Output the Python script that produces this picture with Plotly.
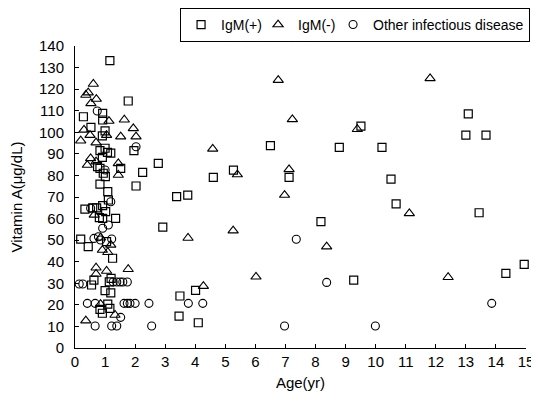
import plotly.graph_objects as go

# IgM(+) : squares
igm_pos_age = [1.16, 1.77, 0.28, 0.92, 0.92, 0.53, 1.00, 0.91, 0.83, 1.00,
               1.08, 1.19, 0.91, 0.75, 0.83, 0.94, 1.01, 1.52, 2.25, 0.83,
               2.03, 1.09, 1.11, 0.33, 0.59, 0.72, 0.92, 1.02, 0.81, 0.92,
               1.35, 0.19, 1.05, 0.44, 1.25, 0.63, 0.55, 1.14, 1.20, 1.00,
               1.19, 1.09, 1.16, 0.83, 0.91, 1.96, 2.77, 2.92, 3.38, 3.75,
               4.60, 5.27, 6.50, 4.01, 3.49, 3.46, 4.10, 7.12, 8.79, 10.21,
               9.51, 10.51, 10.68, 8.18, 9.27, 13.08, 13.00, 13.67, 13.44, 14.94,
               14.33]
igm_pos_va = [133.2, 114.5, 107.2, 108.8, 105.7, 102.3, 100.7, 98.3, 91.5, 92.6,
              90.7, 90.3, 88.4, 84.1, 83.3, 81.0, 79.4, 83.3, 81.4, 76.0,
              75.1, 72.5, 68.6, 64.4, 65.0, 65.0, 66.0, 63.2, 60.4, 60.1,
              60.1, 50.5, 49.3, 47.0, 41.6, 31.5, 29.2, 30.7, 32.3, 26.6,
              25.6, 20.3, 18.4, 17.9, 16.1, 91.5, 85.6, 56.0, 70.2, 70.9,
              79.1, 82.5, 93.8, 26.7, 24.1, 14.8, 11.7, 79.1, 93.0, 93.0,
              102.9, 78.3, 66.8, 58.6, 31.5, 108.5, 98.7, 98.7, 62.7, 38.8,
              34.6]

# IgM(-) : triangles
igm_neg_age = [0.61, 0.44, 0.36, 0.71, 0.53, 1.13, 1.64, 0.30, 0.50, 1.05,
               1.52, 1.94, 2.03, 0.19, 0.70, 0.52, 0.41, 0.70, 1.44, 1.44,
               0.64, 0.85, 1.19, 0.91, 1.09, 0.70, 1.05, 1.77, 0.70, 0.85,
               1.33, 0.36, 4.58, 5.40, 6.76, 3.76, 5.26, 6.02, 4.27, 7.23,
               9.39, 7.12, 6.97, 11.12, 8.37, 11.81, 12.41]
igm_neg_va = [122.4, 118.4, 117.3, 115.4, 113.4, 105.2, 105.8, 101.1, 98.7, 98.7,
              98.0, 101.8, 98.0, 96.1, 95.2, 87.9, 84.8, 86.4, 85.6, 80.2,
              61.7, 51.1, 47.8, 45.4, 44.4, 37.2, 35.7, 36.5, 34.3, 20.3,
              15.3, 12.7, 92.3, 80.4, 124.2, 51.0, 54.4, 33.0, 28.7, 106.0,
              101.4, 82.8, 70.9, 62.4, 47.0, 125.0, 32.8]

# Other infectious disease : circles
other_age = [0.74, 2.03, 1.00, 1.19, 0.52, 1.11, 0.92, 0.63, 0.78, 0.85,
             1.22, 0.14, 0.26, 1.27, 1.39, 1.50, 1.59, 1.74, 0.41, 0.67,
             1.63, 1.74, 1.83, 2.00, 2.46, 1.52, 0.67, 1.22, 1.39, 2.55,
             3.77, 4.25, 7.36, 8.37, 6.97, 9.99, 13.86]
other_va = [109.9, 93.3, 82.5, 67.8, 64.8, 57.0, 55.5, 50.8, 51.6, 50.1,
            50.5, 29.7, 29.7, 30.6, 30.6, 30.6, 30.6, 30.6, 20.7, 20.7,
            20.7, 20.7, 20.7, 20.7, 20.7, 14.2, 10.2, 10.2, 10.2, 10.2,
            20.7, 20.7, 50.4, 30.4, 10.2, 10.2, 20.7]

x_ticks = list(range(0, 16))
y_ticks = list(range(0, 141, 10))

FONT = "Liberation Sans, Arial, sans-serif"

fig = go.Figure()
fig.add_trace(go.Scatter(
    x=igm_pos_age, y=igm_pos_va, mode="markers", name="IgM(+)", legendwidth=32,
    marker=dict(symbol="square-open", size=8, color="black", line=dict(width=1.2, color="black")),
    cliponaxis=False))
fig.add_trace(go.Scatter(
    x=igm_neg_age, y=igm_neg_va, mode="markers", name="IgM(-)", legendwidth=30,
    marker=dict(symbol="triangle-up-open", size=9, color="black", line=dict(width=1.1, color="black")),
    cliponaxis=False))
fig.add_trace(go.Scatter(
    x=other_age, y=other_va, mode="markers", name="Other infectious disease",
    marker=dict(symbol="circle-open", size=8, color="black", line=dict(width=1.1, color="black")),
    cliponaxis=False))

axis_common = dict(
    showgrid=False, zeroline=False, showline=True, linecolor="black", linewidth=1,
    ticks="inside", ticklen=4, tickcolor="black", tickwidth=1,
    tickfont=dict(family=FONT, size=15, color="black"),
    mirror=False, automargin=False,
)

# page body has an 8px default margin, so the figure is sized to fit the 539x406 window
fig.update_layout(
    template="none",
    width=531, height=398,
    margin=dict(l=67, r=13, t=38, b=58, autoexpand=False),
    paper_bgcolor="white", plot_bgcolor="white",
    font=dict(family=FONT, size=15, color="black"),
    xaxis=dict(range=[0, 15], tickvals=x_ticks,
               title=dict(text="Age(yr)", font=dict(family=FONT, size=15), standoff=8),
               **axis_common),
    yaxis=dict(range=[0, 140], tickvals=y_ticks, ticklabelstandoff=7,
               title=dict(text="Vitamin A(μg/dL)", font=dict(family=FONT, size=15), standoff=12),
               **axis_common),
    showlegend=True,
    legend=dict(orientation="h", x=1.009, y=1.126, xanchor="right", yanchor="top",
                bordercolor="black", borderwidth=1, bgcolor="white",
                font=dict(family=FONT, size=14, color="black"),
                itemwidth=30, tracegroupgap=0),
)

fig.write_html("out.html")
